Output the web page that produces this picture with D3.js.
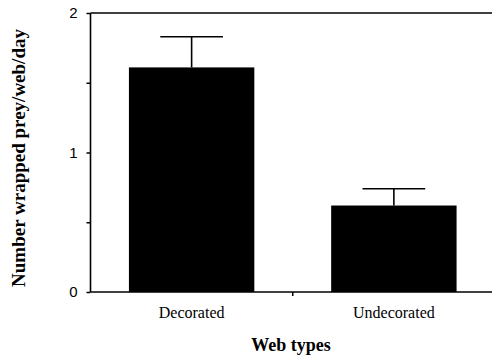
<!DOCTYPE html>
<html>
<head>
<meta charset="utf-8">
<script src="https://cdn.jsdelivr.net/npm/d3@7"></script>
<style>
html,body{margin:0;padding:0;background:#fff;}
svg{display:block;}
</style>
</head>
<body>
<svg id="chart" width="492" height="357"></svg>
<script>
const categories = ["Decorated", "Undecorated"];
const means = [1.61, 0.62];
const errors = [0.22, 0.12];
const yTicks = [0, 1, 2];
const yMinorTicks = [0.5, 1.5];
const yLabel = "Number wrapped prey/web/day";
const xLabel = "Web types";

const svg = d3.select("#chart");
const W = 492, H = 357;
const x0 = 90.5, yTop = 13, yBot = 292;

const y = d3.scaleLinear().domain([0, 2]).range([yBot, yTop]);
const x = d3.scaleBand().domain(categories).range([x0, 495])
  .paddingInner(0.38).paddingOuter(0.19);

const ink = "#000";

// bars
svg.selectAll("rect.bar").data(categories).enter().append("rect")
  .attr("x", d => x(d)).attr("width", x.bandwidth())
  .attr("y", (d, i) => y(means[i]))
  .attr("height", (d, i) => y(0) - y(means[i]))
  .attr("fill", ink);

// error bars
const capW = x.bandwidth() * 0.5;
categories.forEach((c, i) => {
  const cx = x(c) + x.bandwidth() / 2;
  svg.append("line").attr("x1", cx).attr("x2", cx)
    .attr("y1", y(means[i])).attr("y2", y(means[i] + errors[i]))
    .attr("stroke", ink).attr("stroke-width", 1.6);
  svg.append("line").attr("x1", cx - capW / 2).attr("x2", cx + capW / 2)
    .attr("y1", y(means[i] + errors[i])).attr("y2", y(means[i] + errors[i]))
    .attr("stroke", ink).attr("stroke-width", 1.6);
});

// y axis
const yAxis = d3.axisLeft(y).tickValues(yTicks.concat(yMinorTicks))
  .tickSize(4).tickPadding(9)
  .tickFormat(d => yTicks.includes(d) ? d3.format("d")(d) : "");
const gy = svg.append("g").attr("transform", `translate(${x0},0)`).call(yAxis);
gy.select(".domain").remove();
gy.selectAll(".tick line").attr("stroke", ink).attr("stroke-width", 1.5);
gy.selectAll(".tick text").attr("font-family", "Liberation Sans, Arial, sans-serif")
  .attr("font-size", 15).attr("fill", ink);
svg.append("line").attr("x1", x0).attr("x2", x0).attr("y1", yTop).attr("y2", yBot)
  .attr("stroke", ink).attr("stroke-width", 1.6);

// top frame and x axis line
svg.append("line").attr("x1", x0).attr("x2", W).attr("y1", yTop).attr("y2", yTop)
  .attr("stroke", ink).attr("stroke-width", 1.5);
svg.append("line").attr("x1", x0).attr("x2", W).attr("y1", yBot).attr("y2", yBot)
  .attr("stroke", ink).attr("stroke-width", 1.6);

// separator tick between categories
const midX = (x(categories[0]) + x.bandwidth() + x(categories[1])) / 2;
svg.append("line").attr("x1", midX).attr("x2", midX).attr("y1", yBot).attr("y2", yBot + 4)
  .attr("stroke", ink).attr("stroke-width", 1.5);

// category labels
svg.selectAll("text.cat").data(categories).enter().append("text")
  .attr("x", d => x(d) + x.bandwidth() / 2).attr("y", 318)
  .attr("text-anchor", "middle")
  .attr("font-family", "Liberation Serif, Times New Roman, serif")
  .attr("font-size", 16).attr("fill", ink).text(d => d);

// x title
svg.append("text").attr("x", 291).attr("y", 351).attr("text-anchor", "middle")
  .attr("font-family", "Liberation Serif, Times New Roman, serif")
  .attr("font-weight", "bold").attr("font-size", 18).attr("fill", ink).text(xLabel);

// y title
svg.append("text").attr("transform", "translate(25,158) rotate(-90)")
  .attr("text-anchor", "middle")
  .attr("font-family", "Liberation Serif, Times New Roman, serif")
  .attr("font-weight", "bold").attr("font-size", 19).attr("fill", ink).text(yLabel);
</script>
</body>
</html>
